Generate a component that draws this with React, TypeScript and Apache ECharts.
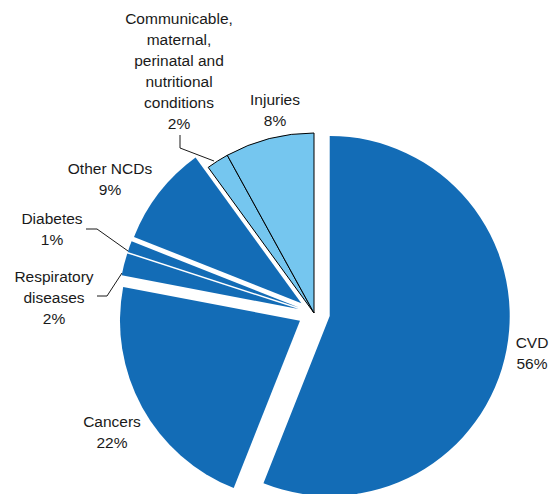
import React, { useEffect, useRef } from "react";
import * as echarts from "echarts";

// Data (clockwise from 12 o'clock)
const categories = [
  "CVD",
  "Cancers",
  "Respiratory diseases",
  "Diabetes",
  "Other NCDs",
  "Communicable, maternal, perinatal and nutritional conditions",
  "Injuries",
];
const values = [56, 22, 2, 1, 9, 2, 8];
const labelTexts = [
  "CVD",
  "Cancers",
  "Respiratory\ndiseases",
  "Diabetes",
  "Other NCDs",
  "Communicable,\nmaternal,\nperinatal and\nnutritional\nconditions",
  "Injuries",
];
const exploded = [true, true, true, true, true, false, false];
const hasLeader = [false, false, true, true, false, true, false];

// Layout (label anchor centres and leader line points, page coordinates)
const labelPos: [number, number][] = [
  [532, 353],
  [112, 432],
  [54, 297],
  [52, 229],
  [110, 179],
  [179, 71],
  [275, 110],
];
const leaderPts: (number[][] | null)[] = [
  null,
  null,
  [[97, 296], [107, 296], [122, 273]],
  [[86, 229], [97, 229], [128, 251]],
  null,
  [[180, 135], [180, 148], [214, 161]],
  null,
];

const DARK = "#136CB6";
const LIGHT = "#75C6EF";
const OFFSET = 16;

export default function App() {
  const ref = useRef<HTMLDivElement>(null);
  useEffect(() => {
    document.body.style.margin = "0";
    const chart = echarts.init(ref.current!, null, { renderer: "svg" });
    const common = {
      type: "pie",
      center: [314, 313],
      radius: 180,
      startAngle: 90,
      clockwise: true,
      avoidLabelOverlap: false,
      emphasis: { disabled: true },
      silent: true,
    };
    // Sectors (exploded via selection)
    const sectorData = categories.map((name, i) => ({
      name,
      value: values[i],
      selected: exploded[i],
      itemStyle: {
        color: exploded[i] ? DARK : LIGHT,
        borderColor: exploded[i] ? DARK : "#000",
        borderWidth: exploded[i] ? 0 : 1,
      },
    }));
    // Labels (carried by a transparent copy of the pie)
    const labelData = categories.map((name, i) => ({
      name,
      value: values[i],
      itemStyle: { color: "rgba(0,0,0,0)", borderWidth: 0 },
      labelLine: { show: hasLeader[i] },
    }));
    chart.setOption({
      animation: false,
      backgroundColor: "#ffffff",
      series: [
        {
          ...common,
          selectedMode: "multiple",
          selectedOffset: OFFSET,
          label: { show: false },
          labelLine: { show: false },
          data: sectorData,
        },
        {
          ...common,
          selectedMode: false,
          label: {
            show: true,
            position: "outside",
            fontFamily: "Liberation Sans, Arial, sans-serif",
            fontSize: 15.5,
            lineHeight: 21,
            color: "#1a1a1a",
            align: "center",
            formatter: (p: any) => labelTexts[p.dataIndex] + "\n" + p.value + "%",
          },
          labelLine: {
            lineStyle: { color: "#1a1a1a", width: 1 },
          },
          labelLayout: (p: any) => {
            const i = p.dataIndex;
            const out: any = {
              x: labelPos[i][0],
              y: labelPos[i][1],
              align: "center",
              verticalAlign: "middle",
            };
            if (leaderPts[i]) out.labelLinePoints = leaderPts[i];
            return out;
          },
          data: labelData,
        },
      ],
    });
    return () => chart.dispose();
  }, []);
  return (
    <div
      ref={ref}
      style={{ position: "fixed", left: 0, top: 0, width: 550, height: 494 }}
    />
  );
}
